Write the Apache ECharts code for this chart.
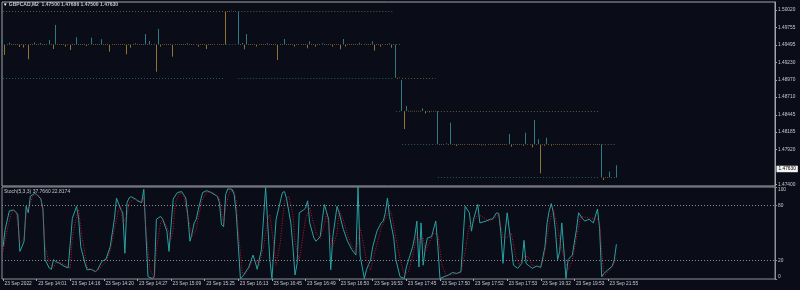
<!DOCTYPE html>
<html><head><meta charset="utf-8">
<script src="https://cdn.jsdelivr.net/npm/echarts@6/dist/echarts.min.js"></script>
<style>html,body{margin:0;padding:0;background:#0a0c17;}#c{width:800px;height:290px;}</style>
</head><body><div id="c"></div><script>
// ---------- data ----------
const symbol = 'GBPCAD,M2';
const slotCount = 368;            // bar slots on the time axis (incl. empty right margin)
const barsPerLabel = 16;
const timeLabels = ['23 Sep 2022','23 Sep 14:01','23 Sep 14:16','23 Sep 14:20','23 Sep 14:27','23 Sep 15:09','23 Sep 15:25','23 Sep 16:13','23 Sep 16:45','23 Sep 16:49','23 Sep 16:50','23 Sep 16:53','23 Sep 17:45','23 Sep 17:50','23 Sep 17:52','23 Sep 17:53','23 Sep 19:32','23 Sep 19:53','23 Sep 21:55'];
const priceTicks = [1.50020,1.49755,1.49495,1.49230,1.48970,1.48710,1.48445,1.48185,1.47920,1.47400];
const stochTicks = [0,20,80,100];
const stochLevels = [20,80];

// candles: [open, close, low, high]  (near-flat bars at the pinned levels)
const F=[1.495,1.49498,1.49494,1.49504], P=[1.5,1.49998,1.49994,1.50004], Q=[1.485,1.48498,1.48494,1.48504], R=[1.48,1.47998,1.47994,1.48004], S=[1.475,1.47498,1.47494,1.47504];
const candles = [
/*0*/  [1.495,1.49503,1.495,1.49569],[1.495,1.49497,1.49344,1.495],F,[1.495,1.49503,1.495,1.4953],F,F,F,F,[1.495,1.49497,1.49464,1.495],F,
/*10*/ [1.495,1.49497,1.49456,1.495],F,[1.495,1.49497,1.49279,1.495],F,F,[1.495,1.49503,1.495,1.49532],F,F,[1.495,1.49503,1.495,1.49524],F,
/*20*/ F,F,[1.495,1.49503,1.495,1.49569],F,[1.495,1.49497,1.49434,1.495],[1.495,1.49503,1.495,1.49795],F,F,F,F,
/*30*/ [1.495,1.49497,1.4947,1.495],F,[1.495,1.49497,1.49419,1.495],F,F,[1.495,1.49503,1.495,1.4961],F,F,F,F,
/*40*/ [1.495,1.49497,1.4948,1.495],F,[1.495,1.49503,1.495,1.49604],F,F,F,F,[1.495,1.49503,1.495,1.4958],F,F,
/*50*/ F,[1.495,1.49497,1.49393,1.495],F,F,F,F,F,F,F,[1.495,1.49497,1.49354,1.495],
/*60*/ F,[1.495,1.49497,1.49453,1.495],F,[1.495,1.49503,1.495,1.4952],F,F,F,F,[1.495,1.49503,1.495,1.49659],F,
/*70*/ [1.495,1.49503,1.495,1.49554],F,F,[1.495,1.49497,1.49093,1.495],[1.495,1.49503,1.495,1.49734],[1.495,1.49497,1.4947,1.495],F,F,F,F,
/*80*/ F,[1.495,1.49497,1.49318,1.495],F,F,F,F,F,F,[1.495,1.49503,1.495,1.4952],F,
/*90*/ F,F,F,[1.495,1.49497,1.4947,1.495],F,F,F,[1.495,1.49497,1.49434,1.495],F,F,
/*100*/F,F,F,F,F,F,[1.5,1.4999,1.495,1.5],P,P,[1.5,1.50003,1.5,1.5001],
/*110*/P,P,[1.495,1.49505,1.495,1.5],F,[1.495,1.49503,1.495,1.49524],[1.495,1.49497,1.49429,1.495],[1.495,1.49503,1.495,1.49659],F,F,F,
/*120*/F,[1.495,1.49497,1.4947,1.495],F,F,F,F,[1.495,1.49503,1.495,1.4952],F,F,F,
/*130*/F,[1.495,1.49497,1.49268,1.495],F,F,[1.495,1.49503,1.495,1.49584],F,F,F,F,[1.495,1.49497,1.4947,1.495],
/*140*/F,F,F,F,F,[1.495,1.49497,1.49444,1.495],[1.495,1.49503,1.495,1.4955],F,F,[1.495,1.49497,1.4947,1.495],
/*150*/F,F,[1.495,1.49503,1.495,1.4952],F,F,F,F,[1.495,1.49497,1.4947,1.495],F,F,
/*160*/F,[1.495,1.49497,1.49429,1.495],[1.495,1.49503,1.495,1.49584],[1.495,1.49497,1.4947,1.495],F,F,F,F,F,F,
/*170*/[1.495,1.49503,1.495,1.49529],F,F,F,F,F,[1.495,1.49503,1.495,1.4955],[1.495,1.49497,1.49409,1.495],F,F,
/*180*/[1.495,1.49497,1.4947,1.495],F,F,F,[1.495,1.49503,1.495,1.4952],[1.495,1.49497,1.49453,1.495],F,[1.49,1.49005,1.49,1.495],[1.49,1.48995,1.48985,1.49],[1.49,1.48998,1.48994,1.49004],
/*190*/[1.485,1.48505,1.485,1.4897],[1.485,1.48495,1.4823,1.485],[1.485,1.48505,1.485,1.48577],Q,Q,Q,Q,Q,Q,Q,
/*200*/[1.485,1.48505,1.485,1.48542],[1.485,1.48495,1.48465,1.485],Q,[1.485,1.48495,1.4848,1.485],Q,Q,Q,[1.48,1.48005,1.48,1.485],R,R,
/*210*/R,[1.48,1.48003,1.48,1.48015],R,[1.48,1.48003,1.48,1.48326],R,R,[1.48,1.47997,1.47976,1.48],R,R,R,
/*220*/R,R,R,R,R,R,R,R,[1.48,1.47997,1.47985,1.48],R,
/*230*/[1.48,1.47997,1.47985,1.48],R,R,R,R,R,R,R,R,R,
/*240*/R,[1.48,1.48003,1.48,1.48156],[1.48,1.47997,1.47965,1.48],R,R,R,R,R,[1.48,1.47997,1.4798,1.48],[1.48,1.48003,1.48,1.48176],
/*250*/R,R,[1.48,1.47997,1.47956,1.48],[1.48,1.48003,1.48,1.48367],R,[1.48,1.48003,1.48,1.48076],[1.48,1.47997,1.47565,1.48],R,[1.48,1.47997,1.4798,1.48],[1.48,1.48003,1.48,1.481],
/*260*/R,[1.48,1.47997,1.4798,1.48],R,R,R,R,R,R,R,R,
/*270*/R,R,R,R,R,R,R,R,R,R,
/*280*/R,R,R,R,R,[1.475,1.47505,1.475,1.48],[1.475,1.47495,1.47464,1.475],S,S,[1.475,1.47505,1.475,1.4759],
/*290*/S,S,[1.475,1.4763,1.475,1.47686]
];

// dotted level segments: [fromBar, toBar, price]
const upperBand = [[0,105,1.5],[112,186,1.5],[187,189,1.495],[190,206,1.49],[207,284,1.485],[285,292,1.48]];
const lowerBand = [[0,105,1.49],[106,111,1.495],[112,186,1.49],[187,189,1.485],[190,206,1.48],[207,284,1.475]];

// stochastic vertices: [bar, value]
const stochK = [[0,35],[1,54],[3,74],[5,75],[6,73],[7,70],[8,30],[9,35],[10,41],[11,79],[12,72],[13,90],[15,93],[16,92],[18,87],[19,76],[20,21],[22,12],[23,10.5],[24,21],[25,19],[27,17],[29,14],[31,12],[33,66],[35,79],[36,65],[37,35],[39,17],[40,10],[42,10.5],[44,8],[45,10],[47,19],[49,21.5],[51,35],[53,65],[54,88],[56,76],[57,72],[58,28],[59,83],[60,88],[61,89.5],[63,87],[64,85],[66,83],[67,97.5],[69,2.5],[71,0.6],[72,2.5],[73,65],[75,68],[76,65],[78,52],[79,30],[81,87],[83,94],[85,95],[87,88],[88,68],[89,41],[90,50],[91,61],[92,65],[93,76],[95,94],[97,96],[99,94],[102,90],[103,83],[104,59],[105,57],[106,92],[107,98],[109,97.5],[110,92],[111,72],[113,0.6],[114,2.5],[117,13],[119,26],[120,19],[121,10.5],[123,32],[125,99.4],[127,21],[128,0.6],[130,65],[133,94],[134,95],[135,87],[137,61],[138,35],[139,4.3],[140,17],[141,72],[143,75],[144,77],[145,85],[146,61],[148,44.5],[149,41],[151,46],[152,65],[153,81],[155,65],[156,10],[157,46],[159,79],[160,72],[162,54],[164,41],[166,32],[168,26],[169,100],[170,25],[172,0.6],[173,10],[175,21],[176,35],[178,52],[180,61],[181,63],[182,72],[183,88],[184,68],[186,44.5],[187,21],[189,2.5],[191,0.6],[192,13],[195,35],[196,46],[197,63],[198,13],[199,61],[200,15],[201,33.5],[202,44.5],[204,46],[206,63],[207,35],[208,0.6],[210,2.5],[212,4.3],[214,7],[216,6],[218,8],[220,79],[222,72],[223,52],[224,65],[226,81],[227,61],[230,63],[232,65],[233,65],[235,72],[236,71],[237,50],[238,17],[239,50],[240,72],[242,35],[243,15],[245,11.6],[247,17],[248,42],[249,17],[250,15],[252,11.6],[254,14],[256,12.7],[258,35],[259,61],[260,74],[261,82],[262,72],[263,52],[264,21],[265,30],[266,61],[268,0.6],[269,21],[271,26],[273,54],[274,72],[276,65],[277,63],[279,65],[281,61],[283,76],[284,55],[285,2.5],[286,6],[288,10],[290,14],[291,21],[292,37.766]];
const stochD = [[0,30],[2,54],[4,72],[6,74],[7,61],[8,39],[10,44.5],[11,72],[13,81],[14,90],[16,92],[18,88],[19,72],[20,35],[22,17],[24,12.7],[25,17],[27,18],[30,15],[32,11.6],[33,46],[35,68],[36,75.6],[37,54],[39,28],[40,12.7],[43,9],[45,9],[47,14],[49,19],[51,30],[53,54],[55,75.6],[56,79],[57,61],[59,68],[60,83],[62,86.6],[64,86],[66,83.6],[67,88],[68,54],[70,10],[72,0.6],[73,32],[75,61],[76,64.6],[78,57],[80,43],[81,54],[82,83],[84,93],[86,92],[87,79],[89,57],[90,46],[92,54],[93,68],[95,86.6],[97,94.6],[100,94],[103,88],[104,72],[105,61],[106,79],[108,95.7],[110,95.7],[111,85],[112,50],[114,6],[115,4.3],[117,11.6],[119,21],[121,19],[122,15],[124,35],[126,65],[127,70],[129,35],[130,15],[132,40],[134,85],[136,90],[138,70],[139,40],[141,20],[142,35],[144,65],[146,78],[147,68],[149,50],[151,44],[153,60],[154,72],[156,45],[157,35],[159,50],[160,75],[162,64],[164,48],[166,36],[168,28],[170,55],[171,45],[173,20],[175,10],[176,20],[178,38],[180,55],[182,65],[184,75],[185,70],[187,45],[189,22],[191,5],[193,8],[195,25],[197,48],[198,40],[200,45],[201,30],[203,40],[205,50],[207,48],[209,15],[211,3],[214,5],[218,7],[220,30],[222,58],[224,62],[226,70],[228,68],[231,63],[234,66],[236,70],[238,45],[240,45],[242,50],[244,25],[246,15],[248,25],[250,24],[252,15],[255,13],[257,18],[259,45],[260,60],[262,76],[264,55],[266,32],[269,10],[271,20],[273,45],[275,68],[283,65],[284,60],[286,3],[288,8],[290,13],[292,22.8174]];

// ---------- chart ----------
const FONT = 'Liberation Sans';
const TEAL = '#2c7a82', ORANGE = '#8f7330';
const slots = Array.from({length: slotCount}, (_, i) => String(i));
const last = candles[candles.length - 1];
const lastClose = last[1];
const f5 = v => v.toFixed(5);
const header = symbol + '  ' + [last[0], last[3], last[2], last[1]].map(f5).join(' ');
const stochHeader = 'Stoch(5,3,3) ' + stochK[stochK.length-1][1].toFixed(4) + ' ' + stochD[stochD.length-1][1].toFixed(4);
const showTime = idx => idx % barsPerLabel === 0 && idx / barsPerLabel < timeLabels.length;
const PRICE_MIN = 1.47374, PRICE_MAX = 1.5014;

const bandLines = (segs, color) => segs.map(s => [
  {coord: [s[0], s[2]], lineStyle: {color: color, type: [1, 2], width: 1}, label: {show: false}},
  {coord: [s[1], s[2]]}
]);

const chart = echarts.init(document.getElementById('c'), null, {renderer: 'canvas'});
chart.setOption({
  backgroundColor: '#0a0c17',
  animation: false,
  textStyle: {fontFamily: FONT},
  title: [
    {left: 3, top: 2.6, padding: 0, text: '{i|▼}{t| ' + header + '}',
     textStyle: {rich: {i: {color: '#ffffff', fontSize: 4.5, fontFamily: FONT}, t: {color: '#c4c6cc', fontSize: 5, fontFamily: FONT}}}},
    {left: 4, top: 189.4, padding: 0, text: stochHeader,
     textStyle: {color: '#c4c6cc', fontSize: 5, fontWeight: 'normal', fontFamily: FONT}}
  ],
  grid: [
    {left: 2, top: 2, width: 773, height: 184, show: true, borderColor: '#a3a6ad', borderWidth: 1, backgroundColor: 'transparent', containLabel: false, outerBoundsMode: 'none'},
    {left: 2, top: 187, width: 773, height: 92, show: true, borderColor: '#8e9198', borderWidth: 1, backgroundColor: 'transparent', containLabel: false, outerBoundsMode: 'none'}
  ],
  xAxis: [
    {type: 'category', gridIndex: 0, data: slots, boundaryGap: true,
     axisLine: {show: false}, axisTick: {show: false}, axisLabel: {show: false}, splitLine: {show: false}},
    {type: 'category', gridIndex: 1, data: slots, boundaryGap: true,
     axisLine: {show: false},
     axisTick: {show: true, alignWithLabel: true, interval: showTime, length: 2, lineStyle: {color: '#a3a6ad'}},
     axisLabel: {interval: showTime, formatter: (v, idx) => timeLabels[idx / barsPerLabel] || '',
                 align: 'left', margin: 2.5, padding: [0, 0, 0, 1.5], fontSize: 4.8, color: '#c8cad0', fontFamily: FONT},
     splitLine: {show: false}}
  ],
  yAxis: [
    {type: 'value', gridIndex: 0, position: 'right', min: PRICE_MIN, max: PRICE_MAX, scale: true,
     axisLine: {show: true, lineStyle: {color: '#a3a6ad'}},
     axisTick: {show: true, customValues: priceTicks, length: 2, lineStyle: {color: '#a3a6ad'}},
     axisLabel: {customValues: priceTicks, formatter: v => f5(v), margin: 3, fontSize: 4.8, color: '#c8cad0', fontFamily: FONT},
     splitLine: {show: false}},
    {type: 'value', gridIndex: 1, position: 'right', min: 0, max: 100,
     axisLine: {show: true, lineStyle: {color: '#8e9198'}},
     axisTick: {show: true, customValues: stochTicks, length: 2, lineStyle: {color: '#8e9198'}},
     axisLabel: {customValues: stochTicks, formatter: v => String(v), margin: 3, fontSize: 4.8, color: '#c8cad0', fontFamily: FONT,
                 verticalAlignMinLabel: 'bottom', verticalAlignMaxLabel: 'top'},
     splitLine: {show: false}},
    // current-price tag on the price scale
    {type: 'value', gridIndex: 0, position: 'right', offset: 0, min: PRICE_MIN, max: PRICE_MAX, scale: true,
     axisLine: {show: false}, axisTick: {show: false}, splitLine: {show: false},
     axisLabel: {customValues: [lastClose], formatter: v => f5(v), margin: 1.5, fontSize: 4.8, fontFamily: FONT,
                 color: '#000000', backgroundColor: '#f2f2f2', padding: [1, 2, 0.5, 2]}}
  ],
  series: [
    {type: 'candlestick', xAxisIndex: 0, yAxisIndex: 0, data: candles, barWidth: 0.6,
     itemStyle: {color: TEAL, color0: ORANGE, borderColor: TEAL, borderColor0: ORANGE, borderWidth: 1},
     markLine: {silent: true, symbol: ['none', 'none'], animation: false,
       data: bandLines(upperBand, '#5f5846').concat(bandLines(lowerBand, '#2d5a60'))}},
    {type: 'line', xAxisIndex: 1, yAxisIndex: 1, data: stochK, showSymbol: false, symbol: 'none',
     lineStyle: {color: '#27a3a3', width: 1},
     markLine: {silent: true, symbol: ['none', 'none'], label: {show: false},
       lineStyle: {color: '#8a8c92', type: [1, 2], width: 1},
       data: stochLevels.map(v => ({yAxis: v}))}},
    {type: 'line', xAxisIndex: 1, yAxisIndex: 1, data: stochD, showSymbol: false, symbol: 'none',
     lineStyle: {color: '#c4142e', width: 1, type: [1, 1.5]}}
  ]
});
</script></body></html>
